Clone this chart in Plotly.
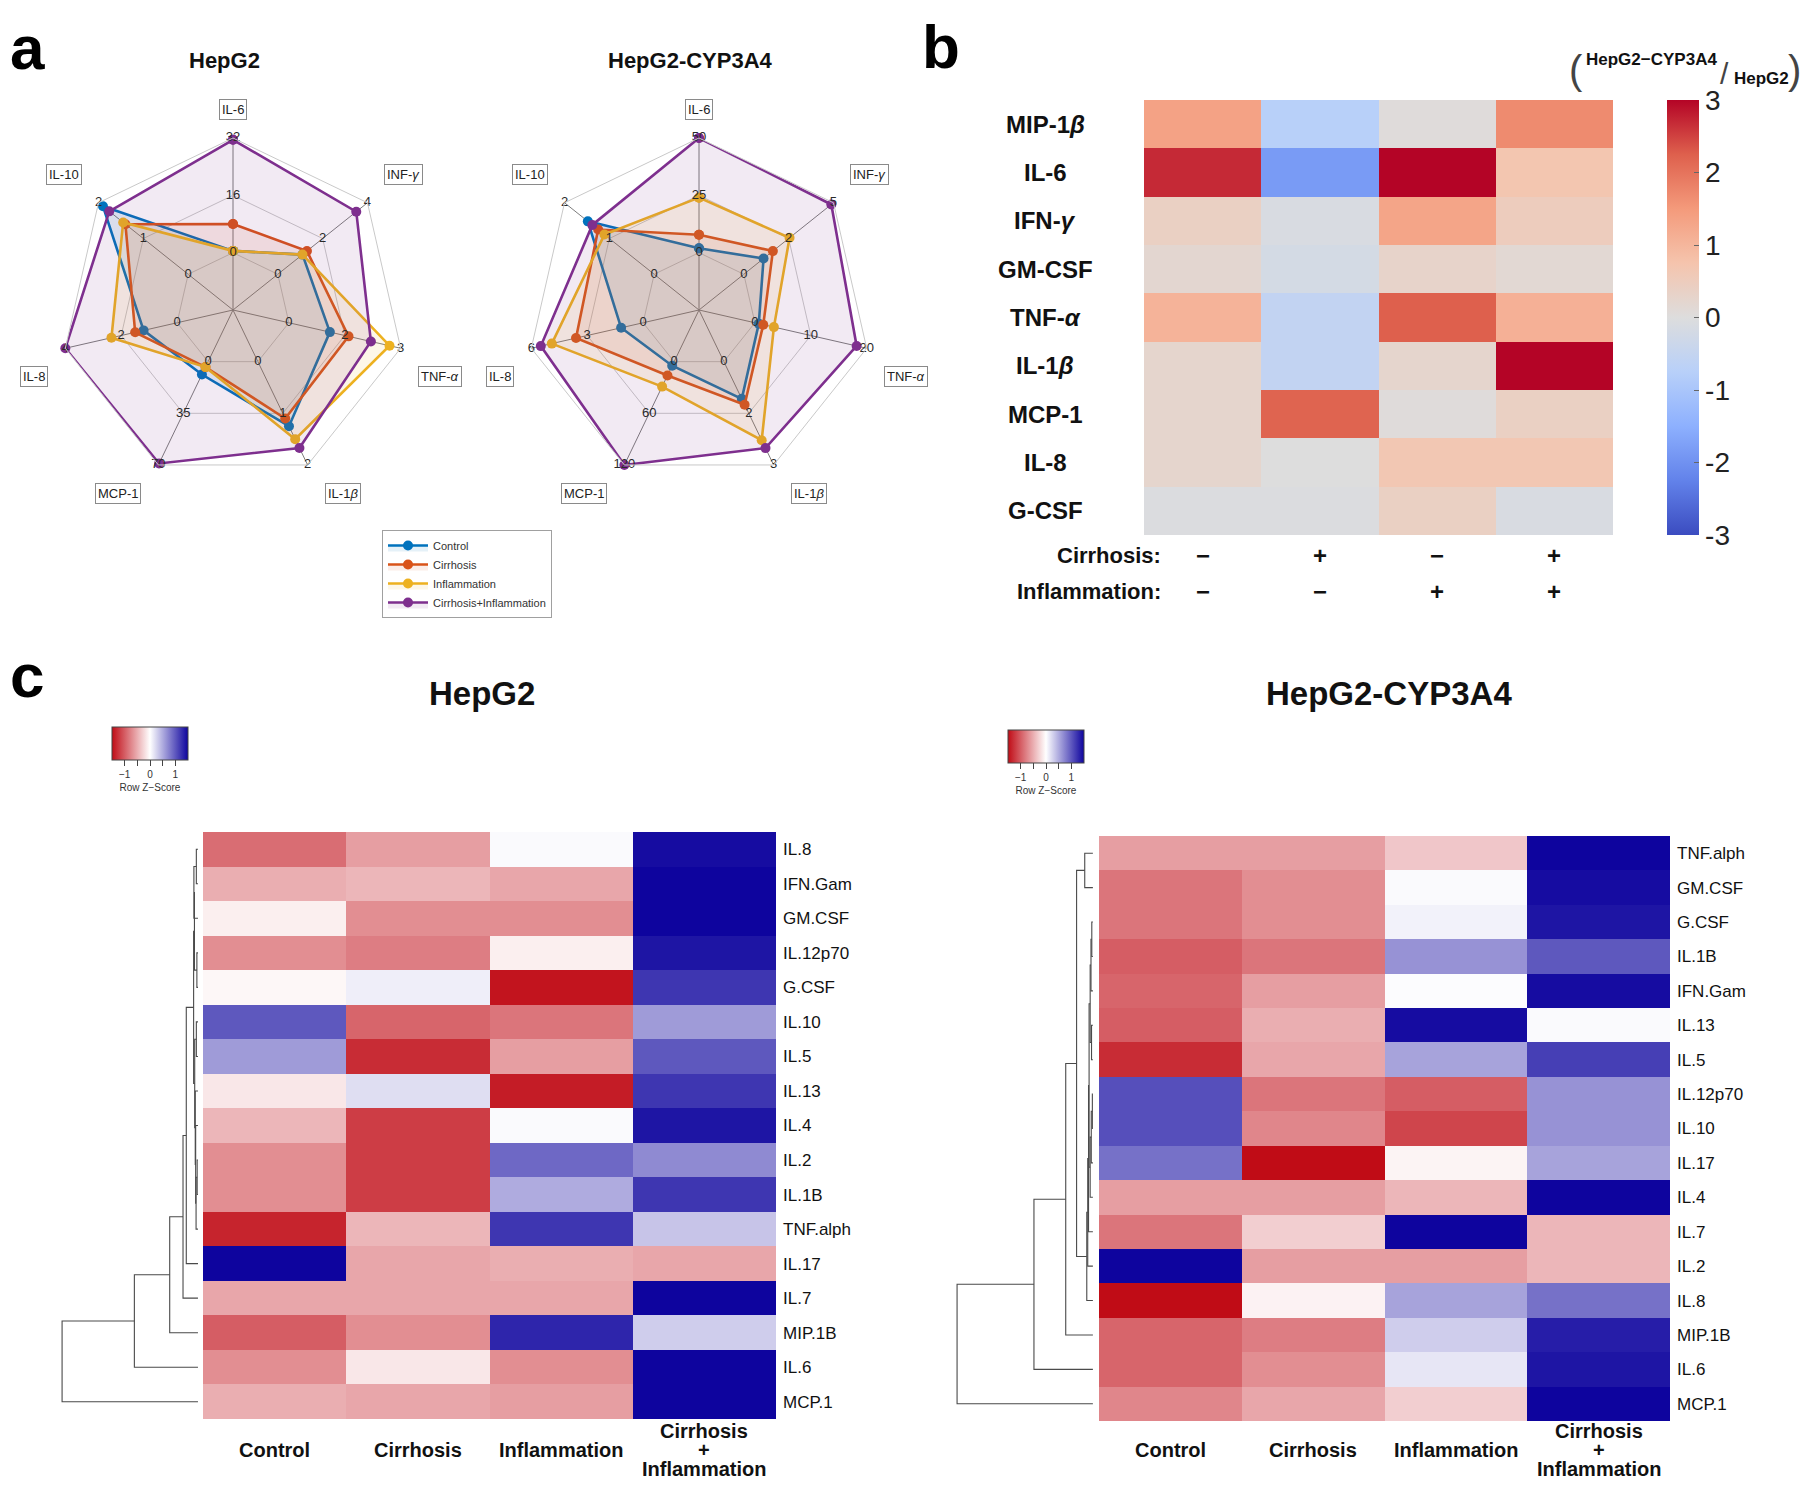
import math
import plotly.graph_objects as go

W, H = 1800, 1491
def fx(p): return p / W
def fy(p): return 1 - p / H

FONT = "Liberation Sans, Arial, Helvetica, sans-serif"

# ---------------- Panel a : radar data ----------------
radar_axes = ["IL-6", "INF-γ", "TNF-α", "IL-1β", "MCP-1", "IL-8", "IL-10"]
radar_axis_labels = ["IL-6", "INF-<i>γ</i>", "TNF-<i>α</i>", "IL-1<i>β</i>", "MCP-1", "IL-8", "IL-10"]
radar_groups = ["Control", "Cirrhosis", "Inflammation", "Cirrhosis+Inflammation"]
radar_colors = ["#0072BD", "#D95319", "#EDB120", "#7E2F8E"]

hepg2_axis_max = [32, 4, 3, 2, 70, 4, 2]
hepg2_control = [0.5, 1.1, 1.1, 1.25, 8.7, 1.2, 1.9]
hepg2_cirrhosis = [8.0, 1.3, 1.6, 1.1, 3.7, 1.5, 1.4]
hepg2_inflammation = [0.5, 1.1, 2.7, 1.5, 3.7, 2.35, 1.45]
hepg2_both = [31.5, 3.5, 2.2, 1.67, 69, 4.0, 1.76]

cyp_axis_max = [50, 5, 20, 3, 120, 6, 2]
cyp_control = [1.9, 1.1, 0.7, 1.08, 4.7, 1.18, 1.48]
cyp_cirrhosis = [7.8, 1.62, 1.5, 1.25, 16, 3.6, 1.25]
cyp_inflammation = [24, 2.55, 3.4, 2.28, 29, 4.9, 1.11]
cyp_both = [50, 4.88, 18.2, 2.51, 120, 5.49, 1.38]

# ---------------- Panel b : fold-change heatmap ----------------
b_rows = ["MIP-1β", "IL-6", "IFN-γ", "GM-CSF", "TNF-α", "IL-1β", "MCP-1", "IL-8", "G-CSF"]
b_row_labels = ["MIP-1<i>β</i>", "IL-6", "IFN-<i>γ</i>", "GM-CSF", "TNF-<i>α</i>",
                "IL-1<i>β</i>", "MCP-1", "IL-8", "G-CSF"]
b_values = [
    [1.35, -0.75, 0.05, 1.7],
    [2.7, -1.85, 3.0, 0.7],
    [0.4, -0.1, 1.3, 0.5],
    [0.2, -0.2, 0.3, 0.15],
    [1.05, -0.55, 2.25, 1.1],
    [0.25, -0.55, 0.25, 3.0],
    [0.25, 2.2, 0.05, 0.4],
    [0.25, 0.0, 0.65, 0.65],
    [-0.05, -0.05, 0.4, -0.1],
]
b_cirrhosis_signs = ["−", "+", "−", "+"]
b_inflammation_signs = ["−", "−", "+", "+"]
b_ticks = [-3, -2, -1, 0, 1, 2, 3]

# ---------------- Panel c : z-score heatmaps ----------------
c_conditions = ["Control", "Cirrhosis", "Inflammation", "Cirrhosis+Inflammation"]
c_condition_lines = [["Control"], ["Cirrhosis"], ["Inflammation"], ["Cirrhosis", "+", "Inflammation"]]

hepg2_rows = ["IL.8", "IFN.Gam", "GM.CSF", "IL.12p70", "G.CSF", "IL.10", "IL.5", "IL.13", "IL.4",
              "IL.2", "IL.1B", "TNF.alph", "IL.17", "IL.7", "MIP.1B", "IL.6", "MCP.1"]
hepg2_z = [
    [-0.9, -0.6, 0.03, 1.45],
    [-0.5, -0.45, -0.55, 1.5],
    [-0.1, -0.7, -0.7, 1.5],
    [-0.7, -0.8, -0.1, 1.4],
    [-0.05, 0.1, -1.45, 1.2],
    [1.0, -0.95, -0.85, 0.6],
    [0.6, -1.3, -0.6, 1.0],
    [-0.15, 0.2, -1.4, 1.2],
    [-0.45, -1.2, 0.03, 1.4],
    [-0.7, -1.2, 0.9, 0.7],
    [-0.7, -1.2, 0.5, 1.2],
    [-1.35, -0.45, 1.2, 0.35],
    [1.5, -0.55, -0.5, -0.55],
    [-0.55, -0.55, -0.55, 1.5],
    [-1.0, -0.7, 1.3, 0.3],
    [-0.7, -0.15, -0.7, 1.5],
    [-0.5, -0.55, -0.6, 1.5],
]
# dendrogram merges: (child_a, child_b, height); leaves are row indices 0..16
hepg2_linkage = [
    (0, 1, 0.012), (17, 2, 0.03), (3, 4, 0.008), (18, 19, 0.026),
    (9, 10, 0.006), (21, 11, 0.014), (8, 22, 0.017), (7, 23, 0.02),
    (5, 6, 0.012), (25, 24, 0.024), (20, 26, 0.032), (27, 12, 0.086),
    (28, 13, 0.11), (29, 14, 0.208), (30, 15, 0.468), (31, 16, 1.0),
]

cyp_rows = ["TNF.alph", "GM.CSF", "G.CSF", "IL.1B", "IFN.Gam", "IL.13", "IL.5", "IL.12p70", "IL.10",
            "IL.17", "IL.4", "IL.7", "IL.2", "IL.8", "MIP.1B", "IL.6", "MCP.1"]
cyp_z = [
    [-0.6, -0.6, -0.35, 1.5],
    [-0.85, -0.7, 0.03, 1.45],
    [-0.85, -0.7, 0.08, 1.4],
    [-1.0, -0.85, 0.65, 1.0],
    [-0.95, -0.6, 0.02, 1.45],
    [-1.0, -0.5, 1.45, 0.03],
    [-1.3, -0.55, 0.55, 1.15],
    [1.05, -0.85, -1.0, 0.65],
    [1.05, -0.75, -1.15, 0.65],
    [0.85, -1.5, -0.07, 0.55],
    [-0.6, -0.6, -0.45, 1.5],
    [-0.85, -0.3, 1.5, -0.45],
    [1.5, -0.6, -0.6, -0.45],
    [-1.5, -0.08, 0.55, 0.85],
    [-0.95, -0.8, 0.3, 1.35],
    [-0.95, -0.7, 0.15, 1.4],
    [-0.75, -0.55, -0.3, 1.5],
]
cyp_linkage = [
    (0, 1, 0.06), (2, 3, 0.008), (18, 4, 0.014), (5, 6, 0.01), (19, 20, 0.02),
    (7, 8, 0.004), (22, 9, 0.012), (23, 10, 0.02), (21, 24, 0.028), (25, 11, 0.032),
    (26, 12, 0.038), (27, 13, 0.045), (17, 28, 0.12), (29, 14, 0.2), (30, 15, 0.434),
    (31, 16, 1.0),
]

# ---------------- styles ----------------
coolwarm = [
    [0.0, "rgb(59,76,192)"], [0.125, "rgb(98,130,234)"], [0.25, "rgb(141,176,254)"],
    [0.375, "rgb(184,208,249)"], [0.5, "rgb(221,221,221)"], [0.625, "rgb(245,196,173)"],
    [0.75, "rgb(244,154,123)"], [0.875, "rgb(222,96,77)"], [1.0, "rgb(180,4,38)"],
]
redwhiteblue = [[0.0, "rgb(192,12,22)"], [0.5, "rgb(255,255,255)"], [1.0, "rgb(14,4,158)"]]


def rgba(hexc, a):
    h = hexc.lstrip("#")
    return f"rgba({int(h[0:2],16)},{int(h[2:4],16)},{int(h[4:6],16)},{a})"


def norm(vals, maxes):
    return [1 / 3 + 2 / 3 * v / m for v, m in zip(vals, maxes)]


fig = go.Figure()
annotations = []

# ---------------- radar plots ----------------
R = 172
radars = [
    ("polar", 233, 310, hepg2_axis_max,
     [hepg2_control, hepg2_cirrhosis, hepg2_inflammation, hepg2_both], True, "HepG2"),
    ("polar2", 699, 310, cyp_axis_max,
     [cyp_control, cyp_cirrhosis, cyp_inflammation, cyp_both], False, "HepG2-CYP3A4"),
]
layout_polars = {}
for sub, cx, cy, maxes, series, showleg, title in radars:
    layout_polars[sub] = dict(
        domain=dict(x=[fx(cx - R), fx(cx + R)], y=[fy(cy + R), fy(cy - R)]),
        gridshape="linear",
        bgcolor="white",
        radialaxis=dict(range=[0, 1], tickvals=[1 / 3, 2 / 3, 1], showticklabels=False, ticks="",
                        showline=False, gridcolor="#c9c9c9", gridwidth=1),
        angularaxis=dict(direction="clockwise", rotation=90, showticklabels=False, ticks="",
                         showline=True, linecolor="#c9c9c9", linewidth=1,
                         gridcolor="#7d7d7d", gridwidth=1.3,
                         categoryorder="array", categoryarray=radar_axes),
    )
    for name, vals, col in zip(radar_groups, series, radar_colors):
        r = norm(vals, maxes)
        fig.add_trace(go.Scatterpolar(
            r=r + [r[0]], theta=radar_axes + [radar_axes[0]], subplot=sub,
            mode="lines+markers", name=name, showlegend=showleg,
            line=dict(color=col, width=2.6), marker=dict(color=col, size=10),
            fill="toself", fillcolor=rgba(col, 0.1), hoverinfo="skip"))
    th, rr, tx = [], [], []
    for ax, m in zip(radar_axes, maxes):
        for frac in (0, 0.5, 1):
            th.append(ax)
            rr.append(1 / 3 + 2 / 3 * frac)
            tx.append(f"{m * frac:.0f}")
    fig.add_trace(go.Scatterpolar(r=rr, theta=th, subplot=sub, mode="text", text=tx,
                                  textfont=dict(size=13, color="#2a2a2a", family=FONT),
                                  showlegend=False, hoverinfo="skip"))
    # boxed axis labels
    for k, lab in enumerate(radar_axis_labels):
        ang = math.radians(90 - k * 360 / 7)
        c, s = math.cos(ang), math.sin(ang)
        vx, vy = cx + R * c, cy - R * s
        if c > 0.05:
            xa, dx = "left", 17
        elif c < -0.05:
            xa, dx = "right", -17
        else:
            xa, dx = "center", 0
        if s > 0:
            ya, dy = "bottom", -18
        else:
            ya, dy = "top", 18
        annotations.append(dict(x=fx(vx + dx), y=fy(vy + dy), xref="paper", yref="paper",
                                text=lab, showarrow=False, xanchor=xa, yanchor=ya,
                                font=dict(size=13, color="#222", family=FONT),
                                bordercolor="#8a8a8a", borderwidth=1, borderpad=2,
                                bgcolor="white"))
    annotations.append(dict(x=fx(cx - 9), y=fy(61), xref="paper", yref="paper",
                            text=f"<b>{title}</b>", showarrow=False,
                            font=dict(size=22, color="#111", family=FONT)))

# ---------------- panel b heatmap ----------------
fig.add_trace(go.Heatmap(
    z=b_values, x=[0, 1, 2, 3], y=list(range(len(b_rows))), xaxis="x", yaxis="y",
    colorscale=coolwarm, zmin=-3, zmax=3, hoverinfo="skip",
    colorbar=dict(x=fx(1667), xanchor="left", y=fy(317.5), yanchor="middle",
                  len=435, lenmode="pixels", thickness=32, thicknessmode="pixels",
                  xpad=0, ypad=0, outlinewidth=0,
                  tickvals=b_ticks, ticktext=[str(t) for t in b_ticks],
                  ticks="inside", ticklen=5, tickcolor="#666",
                  tickfont=dict(size=28, color="#222", family=FONT))))
for i, lab in enumerate(b_row_labels):
    annotations.append(dict(x=fx(1045), y=i, xref="paper", yref="y", text=f"<b>{lab}</b>",
                            showarrow=False,
                            font=dict(size=24, color="#111", family=FONT)))
for j, (cs, ins) in enumerate(zip(b_cirrhosis_signs, b_inflammation_signs)):
    annotations.append(dict(x=j, y=fy(555), xref="x", yref="paper", text=f"<b>{cs}</b>",
                            showarrow=False, font=dict(size=24, color="#111", family=FONT)))
    annotations.append(dict(x=j, y=fy(591), xref="x", yref="paper", text=f"<b>{ins}</b>",
                            showarrow=False, font=dict(size=24, color="#111", family=FONT)))
for txt, yy in (("Cirrhosis:", 555), ("Inflammation:", 591)):
    annotations.append(dict(x=fx(1163), y=fy(yy), xref="paper", yref="paper", text=f"<b>{txt}</b>",
                            showarrow=False, xanchor="right",
                            font=dict(size=22, color="#111", family=FONT)))
# colour-bar title (fraction)
cb_title = [
    dict(x=fx(1576), y=fy(70), text="(", font=dict(size=40, color="#444", family=FONT)),
    dict(x=fx(1651), y=fy(59), text="<b>HepG2−CYP3A4</b>", font=dict(size=17, color="#111", family=FONT)),
    dict(x=fx(1724), y=fy(74), text="/", font=dict(size=30, color="#444", family=FONT)),
    dict(x=fx(1761), y=fy(78), text="<b>HepG2</b>", font=dict(size=17, color="#111", family=FONT)),
    dict(x=fx(1794), y=fy(70), text=")", font=dict(size=40, color="#444", family=FONT)),
]
for a in cb_title:
    a.update(xref="paper", yref="paper", showarrow=False)
annotations += cb_title

# ---------------- panel c heatmaps + dendrograms ----------------
def dendro_xy(linkage, n):
    pos = {i: (0.0, float(i)) for i in range(n)}
    xs, ys = [], []
    for k, (a, b, h) in enumerate(linkage):
        ha, ya = pos[a]
        hb, yb = pos[b]
        xs += [ha, h, h, hb, None]
        ys += [ya, ya, yb, yb, None]
        pos[n + k] = (h, (ya + yb) / 2)
    return xs, ys

panels_c = [
    ("x2", "y2", "x3", "y3", hepg2_rows, hepg2_z, hepg2_linkage, (150, 727), "HepG2", 482),
    ("x4", "y4", "x5", "y5", cyp_rows, cyp_z, cyp_linkage, (1046, 730), "HepG2-CYP3A4", 1389),
]
for xh, yh, xd, yd, rows, z, link, key, title, tx in panels_c:
    fig.add_trace(go.Heatmap(
        z=z, x=c_conditions, y=rows, xaxis=xh, yaxis=yh, colorscale=redwhiteblue,
        zmin=-1.5, zmax=1.5, hoverinfo="skip",
        colorbar=dict(orientation="h", x=fx(key[0]), xanchor="center", y=fy(key[1]), yanchor="top",
                      len=76, lenmode="pixels", thickness=33, thicknessmode="pixels",
                      xpad=0, ypad=0, outlinewidth=1, outlinecolor="#444",
                      tickvals=[-1, -0.5, 0, 0.5, 1], ticktext=["−1", "", "0", "", "1"],
                      ticks="outside", ticklen=6, tickcolor="#444",
                      tickfont=dict(size=10, color="#333", family=FONT),
                      title=dict(text="Row Z−Score", side="bottom",
                                 font=dict(size=10, color="#333", family=FONT)))))
    dx, dy = dendro_xy(link, len(rows))
    fig.add_trace(go.Scatter(x=dx, y=dy, xaxis=xd, yaxis=yd, mode="lines",
                             line=dict(color="#4a4a4a", width=1.1), showlegend=False,
                             hoverinfo="skip"))
    for cond, lines in zip(c_conditions, c_condition_lines):
        n = len(lines)
        for li, t in enumerate(lines):
            annotations.append(dict(x=cond, y=fy(1450 + (li - (n - 1) / 2) * 19), xref=xh,
                                    yref="paper", text=f"<b>{t}</b>", showarrow=False,
                                    font=dict(size=20, color="#111", family=FONT)))
    annotations.append(dict(x=fx(tx), y=fy(693), xref="paper", yref="paper",
                            text=f"<b>{title}</b>", showarrow=False,
                            font=dict(size=33, color="#111", family=FONT)))

# panel letters
for letter, px, py in (("a", 27, 48), ("b", 941, 46), ("c", 27, 675)):
    annotations.append(dict(x=fx(px), y=fy(py), xref="paper", yref="paper", text=f"<b>{letter}</b>",
                            showarrow=False, font=dict(size=62, color="#000", family=FONT)))

for a in annotations:
    a.setdefault("xanchor", "center")
    a.setdefault("yanchor", "middle")

hidden = dict(showgrid=False, zeroline=False, showticklabels=False, ticks="", showline=False)
fig.update_layout(
    width=W, height=H, margin=dict(l=0, r=0, t=0, b=0),
    paper_bgcolor="white", plot_bgcolor="white",
    font=dict(family=FONT),
    annotations=annotations,
    showlegend=True,
    legend=dict(x=fx(382), y=fy(530), xanchor="left", yanchor="top", bgcolor="white",
                bordercolor="#a0a0a0", borderwidth=1, itemwidth=40, tracegroupgap=0,
                font=dict(size=11, color="#333", family=FONT)),
    xaxis=dict(domain=[fx(1144), fx(1613)], range=[-0.5, 3.5], anchor="y", **hidden),
    yaxis=dict(domain=[fy(535), fy(100)], range=[8.5, -0.5], anchor="x", **hidden),
    xaxis2=dict(domain=[fx(203), fx(776)], anchor="y2", **hidden),
    yaxis2=dict(domain=[fy(1419), fy(832)], anchor="x2", autorange="reversed", side="right",
                showgrid=False, zeroline=False, ticks="", ticklabelstandoff=6,
                tickfont=dict(size=17, color="#111", family=FONT)),
    xaxis3=dict(domain=[fx(58), fx(203)], range=[1.03, -0.037], anchor="y3", **hidden),
    yaxis3=dict(domain=[fy(1419), fy(832)], range=[16.5, -0.5], anchor="x3", **hidden),
    xaxis4=dict(domain=[fx(1099), fx(1670)], anchor="y4", **hidden),
    yaxis4=dict(domain=[fy(1421), fy(836)], anchor="x4", autorange="reversed", side="right",
                showgrid=False, zeroline=False, ticks="", ticklabelstandoff=6,
                tickfont=dict(size=17, color="#111", family=FONT)),
    xaxis5=dict(domain=[fx(953), fx(1099)], range=[1.03, -0.045], anchor="y5", **hidden),
    yaxis5=dict(domain=[fy(1421), fy(836)], range=[16.5, -0.5], anchor="x5", **hidden),
    **layout_polars,
)

fig.write_html("out.html", config={"displayModeBar": False},
               post_script="document.body.style.margin='0px';")
